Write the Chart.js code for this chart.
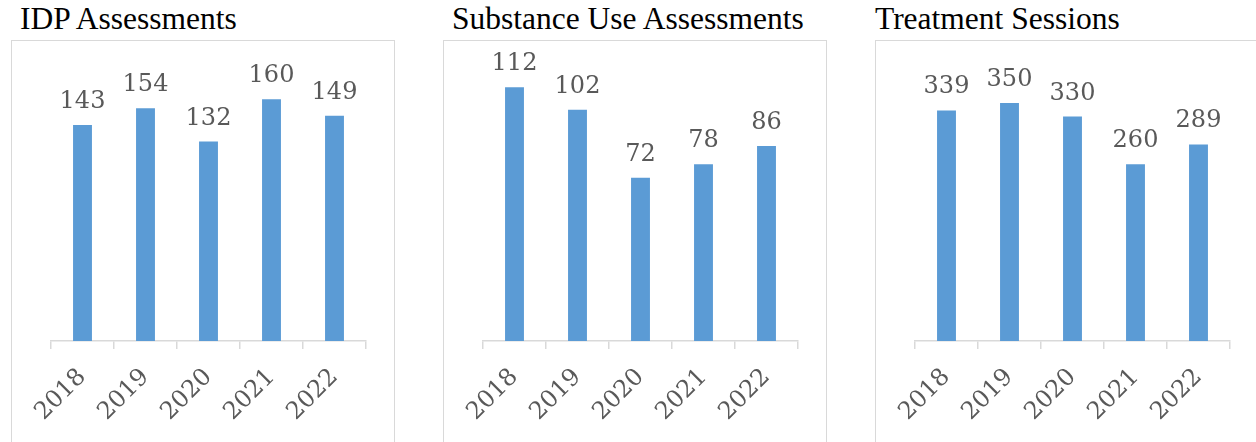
<!DOCTYPE html>
<html>
<head>
<meta charset="utf-8">
<script src="https://cdn.jsdelivr.net/npm/chart.js@4"></script>
<style>
  html, body { margin: 0; padding: 0; background: #ffffff; overflow: hidden; }
  #page { position: relative; width: 1256px; height: 442px; }
  .title {
    position: absolute; top: 3px; font-family: "Liberation Serif", "Times New Roman", serif;
    font-size: 31.5px; line-height: 1; color: #000000; white-space: nowrap;
  }
  .box {
    position: absolute; top: 40px; width: 384px; height: 430px;
    border: 1.5px solid #d9d9d9; box-sizing: border-box;
  }
  canvas { position: absolute; top: 40px; }
</style>
</head>
<body>
<div id="page"></div>
<script>
// Yearly counts for each program area
const years = ['2018', '2019', '2020', '2021', '2022'];
const idpAssessments = [143, 154, 132, 160, 149];
const substanceUseAssessments = [112, 102, 72, 78, 86];
const treatmentSessions = [339, 350, 330, 260, 289];

// Value axis upper bounds (axis itself is hidden)
const axisMax = [180, 120, 400];

const panels = [
  { title: 'IDP Assessments', data: idpAssessments, left: 11, titleLeft: 20 },
  { title: 'Substance Use Assessments', data: substanceUseAssessments, left: 443, titleLeft: 452 },
  { title: 'Treatment Sessions', data: treatmentSessions, left: 875, titleLeft: 875 }
];

const BAR_COLOR = '#5B9BD5';
const TEXT_COLOR = '#595959';
const LINE_COLOR = '#d9d9d9';
const LABEL_FONT = '"DejaVu Serif", serif';

// Draws each bar's value above it
const valueLabels = {
  id: 'valueLabels',
  afterDatasetsDraw(chart) {
    const ctx = chart.ctx;
    const meta = chart.getDatasetMeta(0);
    const values = chart.data.datasets[0].data;
    ctx.save();
    ctx.font = '24px ' + LABEL_FONT;
    ctx.fillStyle = TEXT_COLOR;
    ctx.textAlign = 'center';
    ctx.textBaseline = 'alphabetic';
    meta.data.forEach((bar, i) => {
      ctx.fillText(String(values[i]), bar.x, bar.y - 17);
    });
    ctx.restore();
  }
};

const page = document.getElementById('page');
const W = 384, H = 402;
const AXIS_HEIGHT = 100;

panels.forEach((p, idx) => {
  const t = document.createElement('div');
  t.className = 'title';
  t.style.left = p.titleLeft + 'px';
  t.textContent = p.title;
  page.appendChild(t);

  const box = document.createElement('div');
  box.className = 'box';
  box.style.left = p.left + 'px';
  page.appendChild(box);

  const cv = document.createElement('canvas');
  cv.width = W; cv.height = H;
  cv.style.left = p.left + 'px';
  cv.style.width = W + 'px'; cv.style.height = H + 'px';
  page.appendChild(cv);

  new Chart(cv.getContext('2d'), {
    type: 'bar',
    data: {
      labels: years,
      datasets: [{
        data: p.data,
        backgroundColor: BAR_COLOR,
        borderWidth: 0,
        barPercentage: 0.3,
        categoryPercentage: 1
      }]
    },
    options: {
      responsive: false,
      animation: false,
      layout: { padding: { left: 40, right: 29, top: 29, bottom: H - 301 - AXIS_HEIGHT } },
      plugins: { legend: { display: false }, tooltip: { enabled: false }, title: { display: false } },
      scales: {
        y: { display: false, min: 0, max: axisMax[idx] },
        x: {
          afterFit: (scale) => { scale.height = AXIS_HEIGHT; },
          grid: {
            display: true, drawOnChartArea: false, drawTicks: true,
            offset: true, tickLength: 8, color: LINE_COLOR, lineWidth: 1.5
          },
          border: { display: true, color: LINE_COLOR, width: 1.5 },
          ticks: {
            color: TEXT_COLOR,
            font: { family: LABEL_FONT, size: 24 },
            minRotation: 45, maxRotation: 45,
            padding: 14
          }
        }
      }
    },
    plugins: [valueLabels]
  });
});
</script>
</body>
</html>
